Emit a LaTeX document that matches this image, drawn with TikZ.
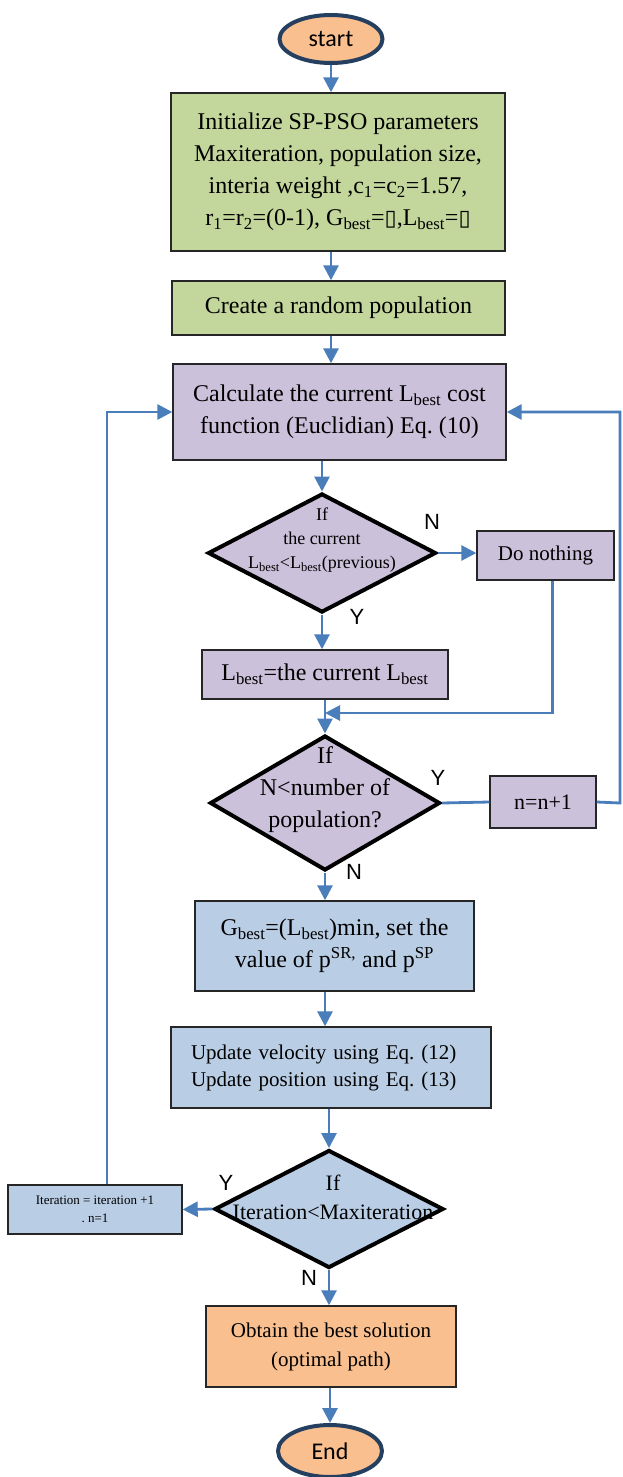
\documentclass[tikz,border=0pt]{standalone}
\usepackage{fontspec}
\usepackage{tikz}
\usetikzlibrary{shapes.geometric,arrows.meta,positioning,calc}
\setmainfont{Liberation Serif}
\newfontfamily\calibrifont{Carlito}
\newfontfamily\arialfont{Liberation Sans}
\newfontfamily\glyphfont{DejaVu Sans}
\definecolor{flowblue}{HTML}{4A7EBB}
\definecolor{termline}{HTML}{243F60}
\definecolor{termfill}{HTML}{F9BF8F}
\definecolor{greenfill}{HTML}{C3D69B}
\definecolor{lavender}{HTML}{CCC1DA}
\definecolor{paleblue}{HTML}{B9CDE5}
\definecolor{boxline}{HTML}{262626}
\newcommand{\Lb}{L\textsubscript{best}}
\newcommand{\Gb}{G\textsubscript{best}}
\newcommand{\emptyglyph}{{\glyphfont\fontsize{22}{22}\selectfont ▯}}
\newcommand{\fs}[2]{\fontsize{#1}{#2}\selectfont}
\frenchspacing

\begin{document}
\begin{tikzpicture}[x=1pt, y=-1pt,
  term/.style={draw=termline, ellipse, line width=4pt, fill=termfill, inner sep=0pt, font=\calibrifont\fs{24}{29}},
  box/.style={draw=boxline, line width=1.4pt, inner sep=0pt, align=center, font=\fs{24}{32}},
  dec/.style={draw=black, diamond, line width=4pt, inner sep=0pt},
  dectext/.style={align=center, inner sep=0pt},
  flow/.style={draw=flowblue, line width=2.8pt, -{Triangle[length=15pt,width=15pt]}},
  link/.style={draw=flowblue, line width=2.8pt},
  yn/.style={font=\arialfont\fs{22}{26}, inner sep=0pt}
]
\useasboundingbox (0,0) rectangle (622,1477);

\node[term, minimum width=103pt, minimum height=48pt] (start) at (331,39) {start};
\node[box, fill=greenfill, minimum width=334pt, minimum height=158pt] (init) at (338,172)
  {Initialize SP-PSO parameters\\Maxiteration, population size,\\interia weight ,c\textsubscript{1}=c\textsubscript{2}=1.57,\\r\textsubscript{1}=r\textsubscript{2}=(0-1), \Gb=\emptyglyph,\Lb=\emptyglyph};
\node[box, fill=greenfill, minimum width=333pt, minimum height=54pt] (create) at (338.5,308) {Create a random population};
\node[box, fill=lavender, minimum width=333pt, minimum height=96pt] (calc) at (339.5,412)
  {Calculate the current \Lb{} cost\\function (Euclidian) Eq. (10)};

\node[dec, fill=lavender, minimum width=228pt, minimum height=119pt] (d1) at (322,553) {};
\node[dectext, font=\fs{18}{24}] (d1t) at (322,540) {If\\the current\\\Lb<\Lb(previous)};
\node[box, fill=lavender, minimum width=137pt, minimum height=49pt, font=\fs{21}{26}] (nothing) at (545.5,555.5) {Do nothing};
\node[box, fill=lavender, minimum width=246pt, minimum height=49pt] (lset) at (325,674.5) {\Lb=the current \Lb};

\node[dec, fill=lavender, minimum width=230pt, minimum height=135pt] (d2) at (325,803) {};
\node[dectext, font=\fs{24}{32}] (d2t) at (325,790) {If\\N<number of\\population?};
\node[box, fill=lavender, minimum width=106pt, minimum height=52pt, font=\fs{22}{26}] (inc) at (543,802) {n=n+1};

\node[box, fill=paleblue, minimum width=279pt, minimum height=90pt] (gbest) at (334.5,946)
  {\Gb=(\Lb)min, set the\\value of p\textsuperscript{SR,} and p\textsuperscript{SP}};
\node[box, fill=paleblue, minimum width=320pt, minimum height=81pt, text width=280pt, align=left, font=\fs{21}{27}] (update) at (331,1067.5)
  {Update velocity using Eq. (12)\\Update position using Eq. (13)};

\node[dec, fill=paleblue, minimum width=229pt, minimum height=118pt] (d3) at (329,1209) {};
\node[dectext, font=\fs{22}{29}] (d3t) at (333,1197) {If\\Iteration<Maxiteration};
\node[box, fill=paleblue, minimum width=174pt, minimum height=49pt, font=\fs{13}{18}] (iter) at (95,1209.5)
  {Iteration = iteration +1\\. n=1};

\node[box, fill=termfill, minimum width=250pt, minimum height=81pt, font=\fs{21}{29}] (obtain) at (331,1346.5)
  {Obtain the best solution\\(optimal path)};
\node[term, minimum width=104pt, minimum height=52pt] (end) at (330,1451) {End};

\coordinate (merge) at (325,713);
\coordinate (rbend) at (620,803);
\coordinate (lbend) at (107,411);

\draw[flow] (start) -- (start |- init.north);
\draw[flow] (init.south -| start) -- (start |- create.north);
\draw[flow] (create.south -| start) -- (start |- calc.north);
\draw[flow] (calc.south -| d1) -- (d1.north);
\draw[flow] (d1.east) -- (d1.east -| nothing.west);
\draw[flow] (d1.south) -- (d1 |- lset.north);
\draw[flow] ([xshift=7pt]nothing.south) |- (merge);
\draw[flow] (lset.south -| d2) -- (d2.north);
\draw[link] (d2.east) -- (inc.west);
\draw[flow] (inc.east) -- (rbend) |- (calc.east);
\draw[flow] (d2.south) -- (d2 |- gbest.north);
\draw[flow] (gbest.south -| d2) -- (d2 |- update.north);
\draw[flow] (update.south -| d3) -- (d3.north);
\draw[flow] (d3.west) -- (iter.east);
\draw[flow] (iter.north -| lbend) |- (calc.west);
\draw[flow] (d3.south) -- (d3 |- obtain.north);
\draw[flow] (obtain.south -| end) -- (end.north);

\node[yn] (n1) at (432,522) {N};
\node[yn] (y1) at (357,617) {Y};
\node[yn] (y2) at (438,778) {Y};
\node[yn] (n2) at (354,872) {N};
\node[yn] (y3) at (226,1183) {Y};
\node[yn] (n3) at (309,1278) {N};
\end{tikzpicture}
\end{document}
